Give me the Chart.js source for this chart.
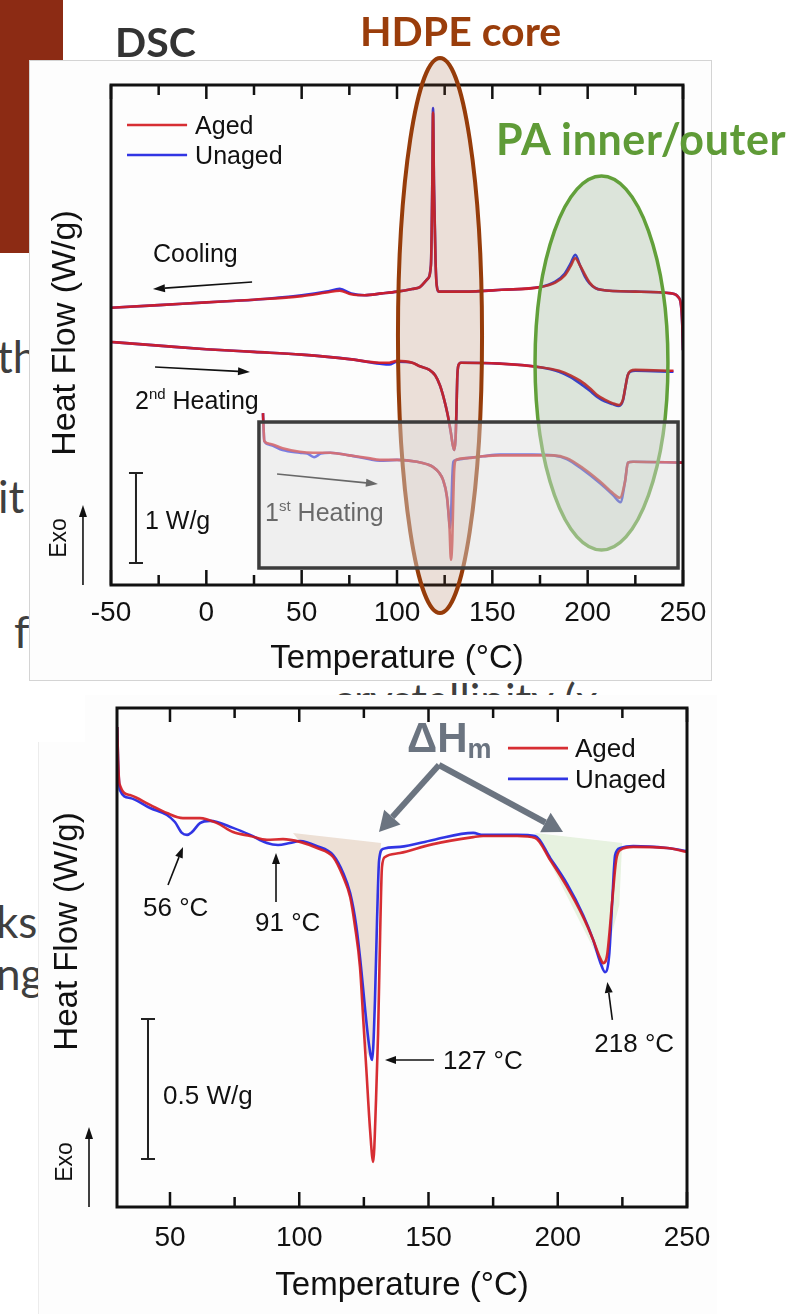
<!DOCTYPE html>
<html>
<head>
<meta charset="utf-8">
<title>DSC aged vs unaged</title>
<script src="https://cdn.jsdelivr.net/npm/chart.js@4.4.1/dist/chart.umd.min.js"></script>
<style>
  html, body { margin: 0; padding: 0; background: #fff; }
  body { position: relative; width: 807px; height: 1314px; overflow: hidden; }
  .redbar { position: absolute; left: 0; top: 0; width: 63px; height: 253px; background: #8c2b14; }
  .slide { position: absolute; font-family: Lato, "Open Sans", sans-serif; font-size: 44px; line-height: 1; color: #3f3f3f; white-space: nowrap; }
  .head { position: absolute; font-family: Lato, "Open Sans", sans-serif; font-weight: 700; font-size: 41px; line-height: 1; white-space: nowrap; }
  canvas { position: absolute; left: 0; }
</style>
</head>
<body>
<div class="redbar"></div>
<div class="slide" style="left:-3px;top:334px">th</div>
<div class="slide" style="left:-2px;top:474px">it</div>
<div class="slide" style="left:14px;top:609px">f</div>
<div class="slide" style="left:-4px;top:899px">ks</div>
<div class="slide" style="left:-4px;top:951px">ng</div>
<div class="slide" style="left:333px;top:677px">crystallinity (x</div>
<canvas id="topChart" width="807" height="700" style="top:0;width:807px;height:700px"></canvas>
<canvas id="bottomChart" width="807" height="624" style="top:690px;width:807px;height:624px"></canvas>
<div class="head" style="left:115px;top:21px;color:#333">DSC</div>
<div class="head" style="left:360px;top:10px;color:#9a3d0b">HDPE core</div>
<div class="head" style="left:496px;top:117px;font-size:43px;letter-spacing:0.6px;color:#5f9b37">PA inner/outer</div>
<script>
const RED = "rgba(212,28,34,0.92)";
const BLUE = "rgba(32,36,226,0.92)";
const FONT = '"Liberation Sans", Arial, sans-serif';
const seriesNames = ["Aged", "Unaged"];

// ---- top panel: cooling / 2nd heating / 1st heating, W/g (traces offset) ----
const topTicks = [-50, 0, 50, 100, 150, 200, 250];
const topMinor = [-25, 25, 75, 125, 175, 225];

const coolT = [-50, -25, 0, 25, 50, 63, 70, 76, 83, 92, 100, 108, 112, 116, 117.8, 118.5, 118.9, 119.4, 120.2, 120.8, 122, 135, 155, 175, 183, 188, 191, 193.5, 196, 198.5, 201, 204, 207, 225, 244, 247.5, 249, 249.6, 250];
const coolAged = [3.08, 3.11, 3.14, 3.17, 3.21, 3.25, 3.27, 3.23, 3.22, 3.24, 3.26, 3.29, 3.31, 3.40, 3.55, 4.40, 5.25, 4.40, 3.60, 3.33, 3.26, 3.26, 3.28, 3.31, 3.36, 3.44, 3.54, 3.63, 3.55, 3.45, 3.36, 3.30, 3.28, 3.26, 3.24, 3.20, 3.10, 2.90, 2.61];
const coolUnaged = [3.08, 3.11, 3.14, 3.17, 3.22, 3.26, 3.29, 3.24, 3.22, 3.24, 3.26, 3.29, 3.31, 3.40, 3.56, 4.45, 5.30, 4.45, 3.62, 3.34, 3.26, 3.26, 3.28, 3.31, 3.37, 3.46, 3.57, 3.67, 3.55, 3.43, 3.35, 3.30, 3.28, 3.26, 3.24, 3.20, 3.10, 2.90, 2.61];

const heat2T = [-50, -25, 0, 25, 50, 75, 91, 96, 100, 108, 112, 117, 120, 122.5, 124.5, 126.5, 128.2, 129.3, 130, 130.7, 131.2, 131.6, 132.2, 133.5, 154, 175, 185, 191, 196, 201, 205, 209, 213, 216.4, 218.5, 219.8, 221, 222.5, 225, 245];
const heat2Aged = [2.70, 2.66, 2.62, 2.59, 2.56, 2.51, 2.47, 2.47, 2.49, 2.47, 2.43, 2.39, 2.33, 2.22, 2.08, 1.90, 1.70, 1.55, 1.50, 1.62, 1.95, 2.30, 2.44, 2.47, 2.46, 2.42, 2.38, 2.33, 2.27, 2.19, 2.11, 2.06, 2.02, 2.00, 2.06, 2.20, 2.33, 2.38, 2.39, 2.38];
const heat2Unaged = [2.70, 2.66, 2.62, 2.59, 2.56, 2.51, 2.46, 2.45, 2.48, 2.47, 2.43, 2.39, 2.33, 2.22, 2.08, 1.90, 1.70, 1.55, 1.50, 1.62, 1.95, 2.30, 2.44, 2.47, 2.46, 2.42, 2.37, 2.31, 2.24, 2.16, 2.09, 2.04, 2.01, 1.99, 2.05, 2.20, 2.33, 2.37, 2.38, 2.37];

const heat1AgedT = [29.7, 30.0, 30.4, 33, 40, 49, 56, 65, 75, 85, 91, 100, 110.5, 116, 119, 122, 124.1, 126.2, 127.5, 128.3, 129, 129.5, 130, 131, 136.7, 145, 154, 171, 182, 189, 197.5, 206.5, 213.3, 216.9, 219.6, 221.1, 223.8, 250];
const heat1Aged = [1.91, 1.75, 1.60, 1.57, 1.52, 1.48, 1.47, 1.47, 1.44, 1.41, 1.39, 1.39, 1.37, 1.34, 1.31, 1.25, 1.17, 0.98, 0.65, 0.28, 0.50, 0.94, 1.28, 1.39, 1.41, 1.43, 1.44, 1.44, 1.44, 1.41, 1.30, 1.15, 1.02, 0.97, 1.15, 1.36, 1.37, 1.36];
const heat1UnagedT = [29.7, 30.0, 30.4, 33, 40, 49, 53, 56.5, 60, 65, 75, 85, 91, 100, 110.5, 116, 119, 122, 124.1, 126.2, 127.2, 127.8, 128.4, 129, 129.6, 131, 136.7, 145, 154, 171, 182, 189, 197.5, 206.5, 213.3, 217.2, 219.6, 221.1, 223.8, 250];
const heat1Unaged = [1.91, 1.75, 1.60, 1.56, 1.50, 1.47, 1.46, 1.42, 1.46, 1.47, 1.44, 1.40, 1.38, 1.39, 1.37, 1.34, 1.31, 1.25, 1.17, 0.98, 0.75, 0.63, 0.80, 1.20, 1.37, 1.39, 1.41, 1.43, 1.45, 1.45, 1.44, 1.40, 1.28, 1.13, 1.00, 0.92, 1.15, 1.36, 1.37, 1.36];

// ---- bottom panel: 1st heating enlarged ----
const botTicks = [50, 100, 150, 200, 250];
const botMinor = [75, 125, 175, 225];

const firstAgedT = [29.6, 29.9, 30.5, 34.5, 42.3, 48.8, 55, 61.6, 68.2, 74.4, 81, 87.5, 93.7, 100.3, 106.9, 113.1, 117, 119.7, 121.6, 123.5, 124.7, 125.9, 127.4, 128.6, 129.7, 130.5, 131.3, 132, 133.2, 139, 151.8, 167.3, 171.1, 184.3, 191.3, 197.1, 203.6, 209.8, 213.7, 216.4, 217.6, 219.1, 221.1, 222.6, 224.2, 229.2, 242.3, 250];
const firstAged = [1.714, 1.60, 1.51, 1.471, 1.436, 1.407, 1.389, 1.389, 1.371, 1.339, 1.325, 1.311, 1.314, 1.304, 1.282, 1.25, 1.179, 1.107, 1.0, 0.857, 0.679, 0.5, 0.275, 0.161, 0.382, 0.621, 0.979, 1.214, 1.25, 1.264, 1.296, 1.321, 1.325, 1.325, 1.318, 1.239, 1.143, 1.036, 0.954, 0.889, 0.871, 0.9, 1.096, 1.239, 1.275, 1.286, 1.282, 1.268];
const firstUnagedT = [29.6, 29.9, 30.6, 34.5, 42.3, 48.8, 51.9, 54.6, 56.6, 58.5, 61.6, 65.5, 74.4, 81, 87.5, 91.8, 96.4, 100.3, 106.9, 113.1, 117, 119.7, 122, 123.9, 125.5, 127, 128.2, 129.3, 130.1, 130.9, 132.4, 139, 151.8, 167.3, 171.1, 184.3, 191.3, 197.1, 203.6, 209.8, 213.7, 216.4, 218.3, 219.9, 221.1, 222.2, 224.2, 229.2, 242.3, 250];
const firstUnaged = [1.714, 1.60, 1.489, 1.461, 1.425, 1.40, 1.375, 1.336, 1.329, 1.339, 1.371, 1.379, 1.354, 1.329, 1.30, 1.293, 1.30, 1.307, 1.289, 1.257, 1.193, 1.121, 1.007, 0.857, 0.704, 0.579, 0.525, 0.739, 1.025, 1.239, 1.279, 1.286, 1.311, 1.336, 1.329, 1.329, 1.325, 1.246, 1.154, 1.043, 0.954, 0.875, 0.839, 0.9, 1.096, 1.257, 1.282, 1.289, 1.282, 1.271];

// shaded melting enthalpy areas
const hdpeAreaT = [97.6, 131.7, 130.9, 130.1, 129.3, 128.2, 126.2, 124.7, 123.5, 121.6, 119.7, 117, 113.1, 106.9, 100.3];
const hdpeAreaV = [1.336, 1.30, 1.239, 1.025, 0.739, 0.525, 0.55, 0.679, 0.857, 1.0, 1.107, 1.179, 1.25, 1.282, 1.304];
const paAreaT = [191.3, 224.9, 223.8, 217.6];
const paAreaV = [1.336, 1.30, 1.079, 0.854];

function pts(t, v) {
  return t.map((x, i) => ({ x: x, y: v[i] }));
}
function trace(name, t, v, color, order) {
  return { label: name, data: pts(t, v), borderColor: color, borderWidth: 2.6, pointRadius: 0, cubicInterpolationMode: "monotone", fill: false, order: order };
}
function patch(t, v, color) {
  return { label: "", data: pts(t, v), borderWidth: 0, borderColor: "rgba(0,0,0,0)", backgroundColor: color, pointRadius: 0, tension: 0, fill: "shape", order: 9 };
}
function P(chart, t, v) {
  return [chart.scales.x.getPixelForValue(t), chart.scales.y.getPixelForValue(v)];
}

function arrow(ctx, a, b, len, half, color, width) {
  const ang = Math.atan2(b[1] - a[1], b[0] - a[0]);
  const bx = b[0] - len * Math.cos(ang);
  const by = b[1] - len * Math.sin(ang);
  ctx.strokeStyle = color;
  ctx.fillStyle = color;
  ctx.lineWidth = width;
  ctx.beginPath();
  ctx.moveTo(a[0], a[1]);
  ctx.lineTo(bx, by);
  ctx.stroke();
  ctx.beginPath();
  ctx.moveTo(b[0], b[1]);
  ctx.lineTo(bx + half * Math.sin(ang), by - half * Math.cos(ang));
  ctx.lineTo(bx - half * Math.sin(ang), by + half * Math.cos(ang));
  ctx.closePath();
  ctx.fill();
}

// parts: [text, size, rise]; y is the middle of the main text
function label(ctx, parts, p, color) {
  ctx.fillStyle = color || "#111";
  ctx.textAlign = "left";
  ctx.textBaseline = "alphabetic";
  let x = p[0];
  const base = p[1] + 0.36 * parts[0][1];
  parts.forEach((q) => {
    ctx.font = q[1] + "px " + FONT;
    ctx.fillText(q[0], x, base - (q[2] || 0));
    x += ctx.measureText(q[0]).width;
  });
}

function vtext(ctx, text, p, size) {
  ctx.save();
  ctx.translate(p[0], p[1]);
  ctx.rotate(-Math.PI / 2);
  ctx.font = size + "px " + FONT;
  ctx.fillStyle = "#111";
  ctx.textAlign = "center";
  ctx.textBaseline = "middle";
  ctx.fillText(text, 0, 0);
  ctx.restore();
}

function frame(chart, major, minor) {
  const { ctx, chartArea: a } = chart;
  const sx = chart.scales.x;
  ctx.strokeStyle = "#111";
  ctx.lineWidth = 3;
  ctx.strokeRect(a.left, a.top, a.right - a.left, a.bottom - a.top);
  ctx.lineWidth = 2.5;
  ctx.beginPath();
  major.forEach((t) => {
    const x = sx.getPixelForValue(t);
    ctx.moveTo(x, a.bottom); ctx.lineTo(x, a.bottom - 15);
    ctx.moveTo(x, a.top); ctx.lineTo(x, a.top + 14);
  });
  minor.forEach((t) => {
    const x = sx.getPixelForValue(t);
    ctx.moveTo(x, a.bottom); ctx.lineTo(x, a.bottom - 10);
    ctx.moveTo(x, a.top); ctx.lineTo(x, a.top + 10);
  });
  ctx.stroke();
}

function legend(chart, t0, t1, tText, vs, size) {
  const ctx = chart.ctx;
  [RED, BLUE].forEach((c, i) => {
    const a = P(chart, t0, vs[i]);
    const b = P(chart, t1, vs[i]);
    ctx.strokeStyle = c;
    ctx.lineWidth = 2.6;
    ctx.beginPath(); ctx.moveTo(a[0], a[1]); ctx.lineTo(b[0], b[1]); ctx.stroke();
    label(ctx, [[seriesNames[i], size]], P(chart, tText, vs[i]));
  });
}

function scaleBar(chart, t, v0, v1, text, tText, vText, size) {
  const ctx = chart.ctx;
  const a = P(chart, t, v0);
  const b = P(chart, t, v1);
  ctx.strokeStyle = "#222";
  ctx.lineWidth = 2;
  ctx.beginPath();
  ctx.moveTo(a[0], a[1]); ctx.lineTo(b[0], b[1]);
  ctx.moveTo(a[0] - 7, a[1]); ctx.lineTo(a[0] + 7, a[1]);
  ctx.moveTo(b[0] - 7, b[1]); ctx.lineTo(b[0] + 7, b[1]);
  ctx.stroke();
  label(ctx, [[text, size]], P(chart, tText, vText));
}

function ellipse(ctx, a, b, fill, stroke, width) {
  ctx.beginPath();
  ctx.ellipse((a[0] + b[0]) / 2, (a[1] + b[1]) / 2, Math.abs(b[0] - a[0]) / 2, Math.abs(b[1] - a[1]) / 2, 0, 0, Math.PI * 2);
  ctx.fillStyle = fill;
  ctx.fill();
  ctx.strokeStyle = stroke;
  ctx.lineWidth = width;
  ctx.stroke();
}

const topDeco = {
  id: "topDeco",
  beforeDraw(chart) {
    const ctx = chart.ctx;
    ctx.save();
    ctx.fillStyle = "#fdfdfd";
    ctx.fillRect(29, 60, 682, 620);
    ctx.strokeStyle = "#d4d4d4";
    ctx.lineWidth = 1;
    ctx.strokeRect(29.5, 60.5, 682, 620);
    ctx.restore();
  },
  afterDraw(chart) {
    const ctx = chart.ctx;
    ctx.save();
    frame(chart, topTicks, topMinor);
    legend(chart, -41.6, -10.1, -5.9, [5.111, 4.778], 25);

    label(ctx, [["Cooling", 25]], P(chart, -28, 3.689));
    arrow(ctx, P(chart, 24, 3.367), P(chart, -28, 3.289), 12, 4, "#111", 1.6);
    label(ctx, [["2", 25], ["nd", 15, 10], [" Heating", 25]], P(chart, -37.4, 2.056));
    arrow(ctx, P(chart, -26.9, 2.422), P(chart, 22.9, 2.367), 12, 4, "#111", 1.6);
    label(ctx, [["1", 25], ["st", 15, 10], [" Heating", 25]], P(chart, 30.8, 0.811));
    arrow(ctx, P(chart, 37.1, 1.233), P(chart, 90, 1.122), 12, 4, "#111", 1.6);

    scaleBar(chart, -36.9, 1.244, 0.244, "1 W/g", -32.2, 0.722, 25);
    arrow(ctx, P(chart, -64.7, 0), P(chart, -64.7, 0.889), 12, 4, "#111", 1.6);
    vtext(ctx, "Exo", P(chart, -76.8, 0.522), 23);
    vtext(ctx, "Heat Flow (W/g)", P(chart, -73.6, 2.8), 34);

    ellipse(ctx, P(chart, 100.5, 5.856), P(chart, 144.6, -0.311), "rgba(150,75,35,0.17)", "#963c0a", 4);
    ellipse(ctx, P(chart, 172.4, 4.544), P(chart, 242.1, 0.389), "rgba(90,130,80,0.2)", "#62a03a", 3.5);

    const b0 = P(chart, 27.6, 1.811);
    const b1 = P(chart, 247.4, 0.189);
    ctx.fillStyle = "rgba(220,220,220,0.43)";
    ctx.fillRect(b0[0], b0[1], b1[0] - b0[0], b1[1] - b0[1]);
    ctx.strokeStyle = "#3c3c3c";
    ctx.lineWidth = 3.5;
    ctx.strokeRect(b0[0], b0[1], b1[0] - b0[0], b1[1] - b0[1]);
    ctx.restore();
  },
};

const botDeco = {
  id: "botDeco",
  beforeDraw(chart) {
    const ctx = chart.ctx;
    ctx.save();
    ctx.fillStyle = "#fdfdfd";
    ctx.fillRect(38, 52, 679, 572);
    ctx.fillRect(85, 5, 632, 48);
    ctx.strokeStyle = "#ececec";
    ctx.lineWidth = 1;
    ctx.beginPath(); ctx.moveTo(38.5, 52); ctx.lineTo(38.5, 624); ctx.stroke();
    ctx.restore();
  },
  afterDraw(chart) {
    const ctx = chart.ctx;
    ctx.save();
    frame(chart, botTicks, botMinor);
    legend(chart, 180.75, 203.96, 206.67, [1.639, 1.529], 26);

    label(ctx, [["56 °C", 26]], P(chart, 39.56, 1.071));
    arrow(ctx, P(chart, 49.23, 1.15), P(chart, 55.03, 1.286), 11, 4, "#111", 1.6);
    label(ctx, [["91 °C", 26]], P(chart, 82.88, 1.018));
    arrow(ctx, P(chart, 91.01, 1.089), P(chart, 91.01, 1.264), 11, 4, "#111", 1.6);
    label(ctx, [["127 °C", 26]], P(chart, 155.61, 0.525));
    arrow(ctx, P(chart, 152.13, 0.525), P(chart, 133.17, 0.525), 11, 4, "#111", 1.6);
    label(ctx, [["218 °C", 26]], P(chart, 214.16, 0.586));
    arrow(ctx, P(chart, 221.12, 0.668), P(chart, 219.19, 0.804), 11, 4, "#111", 1.6);

    // delta H_m callout
    const apex = P(chart, 154.06, 1.5786);
    arrow(ctx, apex, P(chart, 130.85, 1.3393), 20, 11, "#6b7480", 6);
    arrow(ctx, apex, P(chart, 202.03, 1.3393), 20, 11, "#6b7480", 6);
    const h = P(chart, 141.68, 1.625);
    ctx.fillStyle = "#6b7480";
    ctx.textBaseline = "alphabetic";
    ctx.font = "bold 42px " + FONT;
    ctx.fillText("ΔH", h[0], h[1]);
    const w = ctx.measureText("ΔH").width;
    ctx.font = "bold 27px " + FONT;
    ctx.fillText("m", h[0] + w, P(chart, 0, 1.6036)[1]);

    scaleBar(chart, 41.49, 0.6714, 0.1714, "0.5 W/g", 47.3, 0.4, 26);
    arrow(ctx, P(chart, 18.67, 0), P(chart, 18.67, 0.2857), 12, 4, "#111", 1.6);
    vtext(ctx, "Exo", P(chart, 9.58, 0.1607), 23);
    vtext(ctx, "Heat Flow (W/g)", P(chart, 10.54, 0.984), 33);
    ctx.restore();
  },
};

function xAxis(min, max, ticks, height, tickPad, titlePad) {
  return {
    type: "linear", min: min, max: max,
    afterBuildTicks: (s) => { s.ticks = ticks.map((v) => ({ value: v })); },
    afterFit: (s) => { s.height = height; },
    grid: { display: false, drawTicks: false },
    border: { display: false },
    ticks: { font: { size: 28, family: FONT }, color: "#111", padding: tickPad, maxRotation: 0, autoSkip: false },
    title: { display: true, text: "Temperature (°C)", font: { size: 33, family: FONT }, color: "#111", padding: { top: 0, bottom: titlePad } },
  };
}
function yAxis(max, width) {
  return {
    type: "linear", min: 0, max: max,
    afterFit: (s) => { s.width = width; },
    ticks: { display: false },
    grid: { display: false, drawTicks: false },
    border: { display: false },
  };
}

Chart.defaults.font.family = FONT;

new Chart(document.getElementById("topChart"), {
  type: "line",
  data: {
    datasets: [
      trace("Aged", coolT, coolAged, RED, 0),
      trace("Unaged", coolT, coolUnaged, BLUE, 1),
      trace("Aged", heat2T, heat2Aged, RED, 0),
      trace("Unaged", heat2T, heat2Unaged, BLUE, 1),
      trace("Aged", heat1AgedT, heat1Aged, RED, 0),
      trace("Unaged", heat1UnagedT, heat1Unaged, BLUE, 1),
    ],
  },
  options: {
    responsive: false,
    animation: false,
    devicePixelRatio: 1,
    layout: { padding: { top: 85, right: 124, left: 0, bottom: 0 } },
    plugins: { legend: { display: false }, tooltip: { enabled: false } },
    scales: { x: xAxis(-50, 250, topTicks, 115, 11, 21), y: yAxis(500 / 90, 111) },
  },
  plugins: [topDeco],
});

new Chart(document.getElementById("bottomChart"), {
  type: "line",
  data: {
    datasets: [
      patch(hdpeAreaT, hdpeAreaV, "rgba(205,165,130,0.32)"),
      patch(paAreaT, paAreaV, "rgba(190,220,170,0.35)"),
      trace("Aged", firstAgedT, firstAged, RED, 0),
      trace("Unaged", firstUnagedT, firstUnaged, BLUE, 1),
    ],
  },
  options: {
    responsive: false,
    animation: false,
    devicePixelRatio: 1,
    layout: { padding: { top: 18, right: 120, left: 0, bottom: 0 } },
    plugins: { legend: { display: false }, tooltip: { enabled: false } },
    scales: { x: xAxis(29.5, 250, botTicks, 107, 14, 8), y: yAxis(499 / 280, 117) },
  },
  plugins: [botDeco],
});
</script>
</body>
</html>
